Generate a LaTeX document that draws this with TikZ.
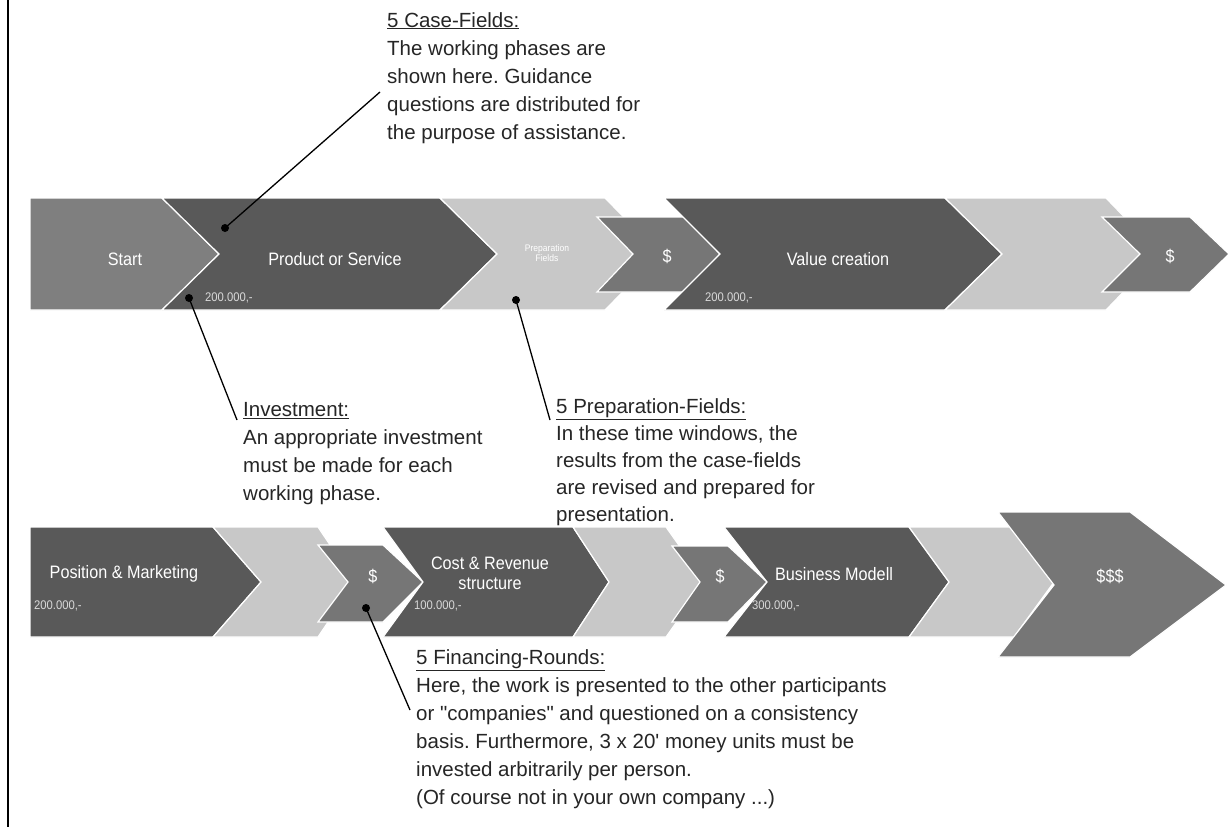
\documentclass[tikz,border=0pt]{standalone}
\usepackage{fontspec}
\setmainfont[Ligatures=TeXOff]{Liberation Sans}
\newfontfamily\narrowfont[FakeStretch=0.9]{Liberation Sans}
\definecolor{cdark}{HTML}{595959}
\definecolor{cmid}{HTML}{7F7F7F}
\definecolor{clight}{HTML}{C8C8C8}
\definecolor{cdollar}{HTML}{767676}
\definecolor{ctext}{HTML}{262626}
\frenchspacing
\begin{document}
\begin{tikzpicture}[x=1pt,y=-1pt,
  chev/.style={draw=white, line width=1.2pt, line join=miter},
  lbl/.style={text=white, font=\narrowfont\fontsize{18}{20}\selectfont, align=center, inner sep=0pt},
  tinylbl/.style={text=white, font=\narrowfont\fontsize{9.5}{10}\selectfont, align=center, inner sep=0pt},
  amount/.style={text=white!85!black, font=\narrowfont\fontsize{12.5}{13}\selectfont, inner sep=0pt, anchor=west},
  note/.style={text=ctext, font=\fontsize{20.5}{28}\selectfont, align=left, anchor=north west, inner sep=0pt},
  dotn/.style={circle, fill=black, inner sep=0pt, minimum size=8pt},
  conn/.style={draw=black, line width=1.3pt}
]
\useasboundingbox (0,0) rectangle (1229,827);
\fill[white] (0,0) rectangle (1229,827);
\draw[line width=1.2pt] (8,0) -- (8,827);

% ---------- top row ----------
\fill[cmid,chev] (30,198) -- (162,198) -- (219,254) -- (162,310) -- (30,310) -- cycle;
\fill[cdark,chev] (162,198) -- (440,198) -- (497,254) -- (440,310) -- (162,310) -- (219,254) -- cycle;
\fill[clight,chev] (440,198) -- (605,198) -- (660,254) -- (605,310) -- (440,310) -- (497,254) -- cycle;
\fill[cdollar,chev] (597,217) -- (684,217) -- (720,254) -- (684,292) -- (597,292) -- (633,254) -- cycle;
\fill[cdark,chev] (664,198) -- (945,198) -- (1002,254) -- (945,310) -- (664,310) -- (720,254) -- cycle;
\fill[clight,chev] (945,198) -- (1106,198) -- (1160,254) -- (1106,310) -- (945,310) -- (1002,254) -- cycle;
\fill[cdollar,chev] (1102,217) -- (1190,217) -- (1229,254) -- (1190,292) -- (1102,292) -- (1140,254) -- cycle;

\node[lbl] (start) at (125,259) {Start};
\node[lbl] (prod) at (335,259) {Product or Service};
\node[tinylbl] (prep) at (547,253) {Preparation\\Fields};
\node[lbl] (d1) at (667,256) {\$};
\node[lbl] (value) at (838,259) {Value creation};
\node[lbl] (d2) at (1170,256) {\$};
\node[amount] (a1) at (205,298) {200.000,-};
\node[amount] (a2) at (705,298) {200.000,-};

% ---------- bottom row ----------
\fill[cdark,chev] (30,527) -- (213,527) -- (261,582) -- (213,637) -- (30,637) -- cycle;
\fill[clight,chev] (213,527) -- (318,527) -- (355,582) -- (318,637) -- (213,637) -- (261,582) -- cycle;
\fill[cdollar,chev] (318,545) -- (383,545) -- (423,582) -- (383,622) -- (318,622) -- (348,582) -- cycle;
\fill[cdark,chev] (383,527) -- (573,527) -- (609,582) -- (573,637) -- (383,637) -- (423,582) -- cycle;
\fill[clight,chev] (573,527) -- (666,527) -- (705,582) -- (666,637) -- (573,637) -- (609,582) -- cycle;
\fill[cdollar,chev] (672,546) -- (728,546) -- (767,582) -- (728,622) -- (672,622) -- (700,582) -- cycle;
\fill[cdark,chev] (724,527) -- (909,527) -- (949,582) -- (909,637) -- (724,637) -- (767,582) -- cycle;
\fill[clight,chev] (909,527) -- (1014,527) -- (1054,582) -- (1014,637) -- (909,637) -- (949,582) -- cycle;
\fill[cdollar,chev] (998,512) -- (1130,512) -- (1226,585) -- (1130,657) -- (998,657) -- (1054,585) -- cycle;

\node[lbl] (pos) at (124,574) {Position \& Marketing};
\node[lbl] (d3) at (373,576) {\$};
\node[lbl] (cost) at (490,573) {Cost \& Revenue\\structure};
\node[lbl] (d4) at (720,576) {\$};
\node[lbl] (bm) at (834,574) {Business Modell};
\node[lbl] (d5) at (1110,576) {\$\$\$};
\node[amount] (a3) at (34,606) {200.000,-};
\node[amount] (a4) at (414,606) {100.000,-};
\node[amount] (a5) at (752,606) {300.000,-};

% ---------- notes ----------
\node[note] (case) at (387,12) {\underline{5 Case-Fields:}\\The working phases are\\shown here. Guidance\\questions are distributed for\\the purpose of assistance.};
\node[note] (inv) at (243,402) {\underline{Investment:}\\An appropriate investment\\must be made for each\\working phase.};
\node[note, font=\fontsize{20.5}{27}\selectfont] (prepn) at (556,398) {\underline{5 Preparation-Fields:}\\In these time windows, the\\results from the case-fields\\are revised and prepared for\\presentation.};
\node[note] (fin) at (416,649) {\underline{5 Financing-Rounds:}\\Here, the work is presented to the other participants\\or "companies" and questioned on a consistency\\basis. Furthermore, 3 x 20' money units must be\\invested arbitrarily per person.\\(Of course not in your own company ...)};

% ---------- connectors ----------
\node[dotn] (p1) at (225,228) {};
\node[dotn] (p2) at (189,298) {};
\node[dotn] (p3) at (516,300) {};
\node[dotn] (p4) at (366,608) {};
\coordinate (e1) at (380,92);
\coordinate (e2) at (237,420);
\coordinate (e3) at (550,420);
\coordinate (e4) at (410,710);
\draw[conn] (p1.center) -- (e1);
\draw[conn] (p2.center) -- (e2);
\draw[conn] (p3.center) -- (e3);
\draw[conn] (p4.center) -- (e4);
\end{tikzpicture}
\end{document}
